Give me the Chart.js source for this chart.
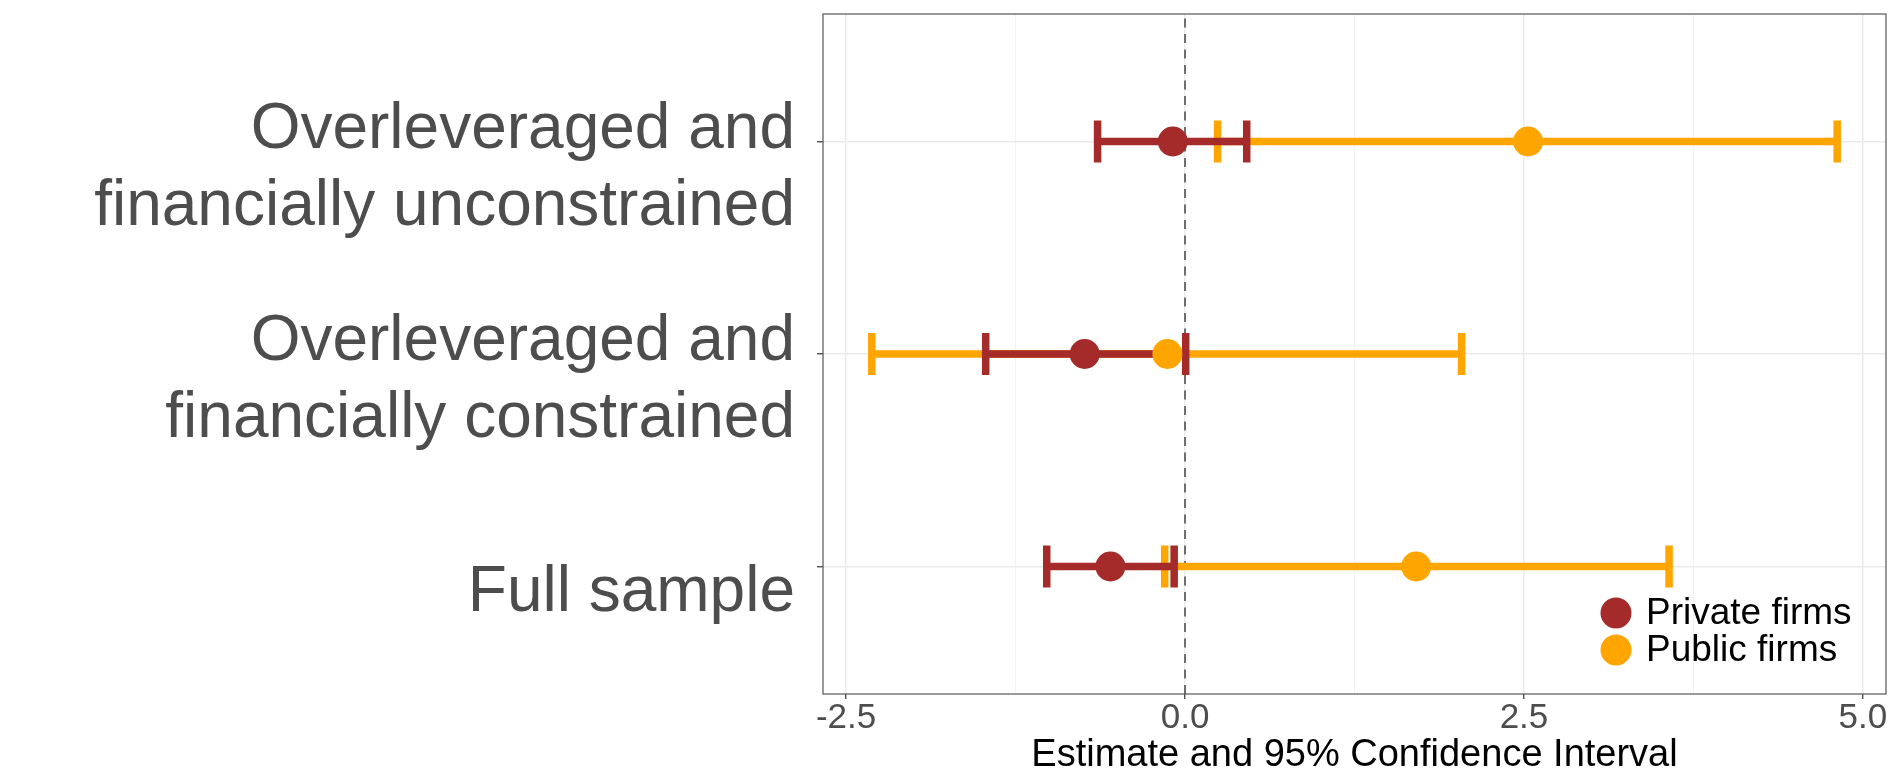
<!DOCTYPE html>
<html>
<head>
<meta charset="utf-8">
<script src="https://cdn.jsdelivr.net/npm/chart.js@4.4.1/dist/chart.umd.min.js"></script>
<style>
  html, body { margin: 0; padding: 0; background: #fff; }
</style>
</head>
<body>
<canvas id="myChart" width="1890" height="777"></canvas>
<script>
// categorias de abajo hacia arriba (orden ggplot)
const categorias = [
    ['Full sample'],
    ['Overleveraged and', 'financially constrained'],
    ['Overleveraged and', 'financially unconstrained']
];
const series = ['Private firms', 'Public firms'];
const colores = ['#A52A2A', '#FFA500'];

const privEst = [-0.55, -0.74, -0.09];
const privLo  = [-1.02, -1.47, -0.645];
const privHi  = [-0.08, 0.005, 0.455];

const pubEst = [1.705, -0.13, 2.53];
const pubLo  = [-0.15, -2.31, 0.24];
const pubHi  = [3.57, 2.04, 4.81];

const xTicks = [-2.5, -1.25, 0, 1.25, 2.5, 3.75, 5];
const xTickLabels = ['-2.5', '', '0.0', '', '2.5', '', '5.0'];
const xMin = -2.67, xMax = 5.17;
const lineaCero = 0;

const fuente = "'Liberation Sans', Arial, Helvetica, sans-serif";
Chart.defaults.font.family = fuente;

function puntos(est) {
    return est.map((v, i) => ({ x: v, y: i + 1 }));
}

function intervalos(lo, hi) {
    const out = [];
    lo.forEach((v, i) => {
        out.push({ x: v, y: i + 1 }, { x: hi[i], y: i + 1 }, { x: null, y: null });
    });
    return out;
}

function datasetCI(lo, hi, color) {
    return {
        label: 'ci',
        data: intervalos(lo, hi),
        showLine: true,
        spanGaps: false,
        borderColor: color,
        borderWidth: 7.5,
        borderCapStyle: 'butt',
        pointStyle: 'line',
        pointRotation: 90,
        pointRadius: 21,
        pointHoverRadius: 21,
        pointBorderColor: color,
        pointBackgroundColor: color,
        pointBorderWidth: 7.5
    };
}

function datasetPuntos(est, nombre, color) {
    return {
        label: nombre,
        data: puntos(est),
        backgroundColor: color,
        borderColor: color,
        pointRadius: 15,
        pointHoverRadius: 15,
        pointBorderWidth: 0
    };
}

// borde del panel
const marco = {
    id: 'marco',
    afterDraw(chart) {
        const { ctx, chartArea: a } = chart;
        ctx.save();
        ctx.strokeStyle = '#555';
        ctx.lineWidth = 1.2;
        ctx.strokeRect(a.left, a.top, a.right - a.left, a.bottom - a.top);
        ctx.restore();
    }
};

// leyenda dentro del panel, abajo a la derecha
const leyenda = {
    id: 'leyenda',
    afterDatasetsDraw(chart) {
        const { ctx, chartArea: a } = chart;
        ctx.save();
        series.forEach((nombre, i) => {
            const cx = a.right - 270;
            const cy = a.bottom - 81 + i * 37;
            ctx.beginPath();
            ctx.arc(cx, cy, 15.5, 0, 2 * Math.PI);
            ctx.fillStyle = colores[i];
            ctx.fill();
            ctx.fillStyle = '#000';
            ctx.font = '37px ' + fuente;
            ctx.textBaseline = 'middle';
            ctx.textAlign = 'left';
            ctx.fillText(nombre, cx + 30, cy + 1);
        });
        ctx.restore();
    }
};

const esMayor = ctx => xTickLabels[ctx.index] !== '';

const config = {
    type: 'scatter',
    data: {
        datasets: [
            datasetPuntos(privEst, series[0], colores[0]),
            datasetPuntos(pubEst, series[1], colores[1]),
            datasetCI(privLo, privHi, colores[0]),
            datasetCI(pubLo, pubHi, colores[1]),
            {
                label: 'cero',
                data: [{ x: lineaCero, y: 0.4 }, { x: lineaCero, y: 3.6 }],
                showLine: true,
                borderColor: '#444',
                borderWidth: 1.5,
                borderDash: [9, 6.5],
                pointRadius: 0
            }
        ]
    },
    options: {
        responsive: false,
        animation: false,
        devicePixelRatio: 1,
        layout: { autoPadding: false, padding: { top: 14, right: 4, left: 0, bottom: 0 } },
        plugins: {
            legend: { display: false },
            tooltip: { enabled: false }
        },
        scales: {
            x: {
                type: 'linear',
                min: xMin,
                max: xMax,
                afterBuildTicks: s => { s.ticks = xTicks.map(v => ({ value: v })); },
                afterFit: s => { s.height = 83; s.paddingLeft = 0; s.paddingRight = 0; },
                ticks: {
                    callback: (v, i) => xTickLabels[i],
                    color: '#4D4D4D',
                    font: { size: 35, lineHeight: 1.0 },
                    padding: 2,
                    maxRotation: 0,
                    autoSkip: false
                },
                grid: {
                    color: ctx => esMayor(ctx) ? '#EBEBEB' : '#F3F3F3',
                    lineWidth: ctx => esMayor(ctx) ? 1.5 : 1,
                    tickColor: ctx => esMayor(ctx) ? '#333' : 'rgba(0,0,0,0)',
                    tickLength: 5,
                    tickWidth: 1.2
                },
                border: { display: false },
                title: {
                    display: true,
                    text: 'Estimate and 95% Confidence Interval',
                    color: '#000',
                    font: { size: 38, lineHeight: 1.15 },
                    padding: { top: 0, bottom: 0 }
                }
            },
            y: {
                type: 'linear',
                min: 0.4,
                max: 3.6,
                afterBuildTicks: s => { s.ticks = categorias.map((c, i) => ({ value: i + 1 })); },
                afterFit: s => { s.width = 823; s.paddingTop = 0; s.paddingBottom = 0; },
                ticks: {
                    callback: (v, i) => categorias[i],
                    color: '#4D4D4D',
                    font: { size: 64, lineHeight: 1.2 },
                    padding: 22,
                    labelOffset: 27,
                    autoSkip: false
                },
                grid: {
                    color: '#EBEBEB',
                    lineWidth: 1.5,
                    tickColor: '#333',
                    tickLength: 6,
                    tickWidth: 1.2
                },
                border: { display: false }
            }
        }
    },
    plugins: [marco, leyenda]
};

const myChart = new Chart(document.getElementById('myChart'), config);
</script>
</body>
</html>
